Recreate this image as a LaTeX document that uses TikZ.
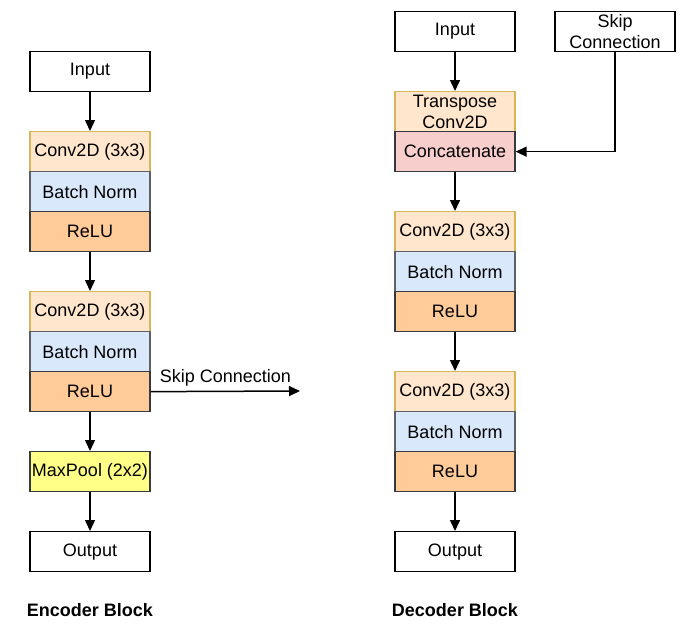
\documentclass[tikz,border=0pt]{standalone}
\usepackage{fontspec}
\setmainfont{Liberation Sans}
\usetikzlibrary{arrows.meta}
\definecolor{convfill}{HTML}{FFE6CC}\definecolor{convdraw}{HTML}{D6B656}
\definecolor{bnfill}{HTML}{DAE8FC}
\definecolor{relufill}{HTML}{FFCC99}
\definecolor{catfill}{HTML}{F8CECC}
\definecolor{poolfill}{HTML}{FFFF88}
\definecolor{edge}{HTML}{36393D}
\tikzset{
  blk/.style={draw=edge, line width=1.3pt, minimum width=120pt, minimum height=40pt, inner sep=0pt, align=center, font=\fontsize{18pt}{21.5pt}\selectfont, anchor=north},
  plain/.style={blk, draw=black, fill=white},
  conv/.style={blk, fill=convfill, draw=convdraw},
  bn/.style={blk, fill=bnfill, draw=edge!80},
  relu/.style={blk, fill=relufill},
  cat/.style={blk, fill=catfill},
  pool/.style={blk, fill=poolfill},
  arr/.style={line width=1.5pt, -{Triangle[length=11pt,width=10pt]}},
  ttl/.style={font=\bfseries\fontsize{18pt}{21pt}\selectfont}
}
\begin{document}
\begin{tikzpicture}[x=1pt,y=-1pt]
\useasboundingbox (0,0) rectangle (687,642);
% Encoder
\node[plain] (ein) at (90,51) {Input};
\node[conv] (ec1) at (90,131) {Conv2D (3x3)};
\node[bn] (eb1) at (90,171) {Batch Norm};
\node[relu] (er1) at (90,211) {ReLU};
\node[conv] (ec2) at (90,291) {Conv2D (3x3)};
\node[bn] (eb2) at (90,331) {Batch Norm};
\node[relu] (er2) at (90,371) {ReLU};
\node[pool] (emp) at (90,451) {MaxPool (2x2)};
\node[plain] (eout) at (90,531) {Output};
\coordinate (skipend) at (300,391);
\draw[arr] (ein) -- (ec1);
\draw[arr] (er1) -- (ec2);
\draw[arr] (er2) -- (emp);
\draw[arr] (emp) -- (eout);
\draw[arr] (er2.east) -- node[above, font=\fontsize{18pt}{21pt}\selectfont, inner sep=4pt] (skiplbl) {Skip Connection} (skipend);
% Decoder
\node[plain] (din) at (455,11) {Input};
\node[plain] (dskip) at (615,11) {Skip\\Connection};
\node[conv] (dtc) at (455,91) {Transpose\\Conv2D};
\node[cat] (dcat) at (455,131) {Concatenate};
\node[conv] (dc1) at (455,211) {Conv2D (3x3)};
\node[bn] (db1) at (455,251) {Batch Norm};
\node[relu] (dr1) at (455,291) {ReLU};
\node[conv] (dc2) at (455,371) {Conv2D (3x3)};
\node[bn] (db2) at (455,411) {Batch Norm};
\node[relu] (dr2) at (455,451) {ReLU};
\node[plain] (dout) at (455,531) {Output};
\draw[arr] (din) -- (dtc);
\draw[arr] (dskip.south) |- (dcat.east);
\draw[arr] (dcat) -- (dc1);
\draw[arr] (dr1) -- (dc2);
\draw[arr] (dr2) -- (dout);
% Titles
\node[ttl] (enct) at (90,610) {Encoder Block};
\node[ttl] (dect) at (455,610) {Decoder Block};
\end{tikzpicture}
\end{document}
